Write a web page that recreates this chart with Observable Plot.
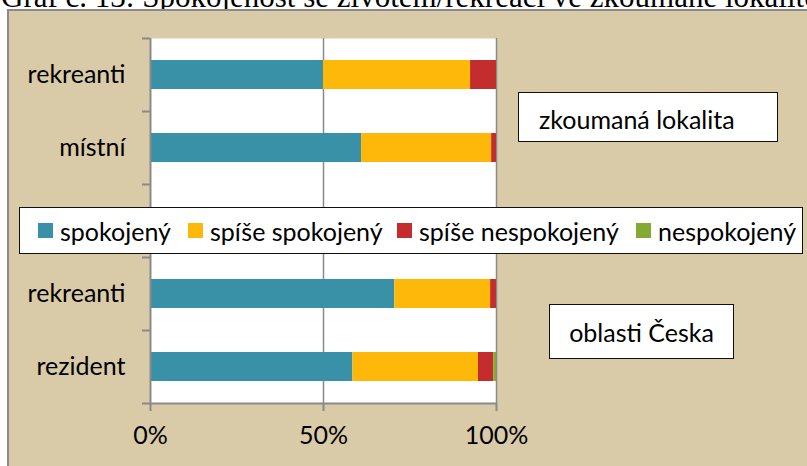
<!DOCTYPE html>
<html><head><meta charset="utf-8">
<script src="https://cdn.jsdelivr.net/npm/d3@7"></script>
<script src="https://cdn.jsdelivr.net/npm/@observablehq/plot@0.6"></script>
<style>
html,body{margin:0;padding:0;background:#fff;}
#wrap{position:relative;width:807px;height:466px;overflow:hidden;font-family:Lato,"Open Sans",sans-serif;color:#000;}
#title{position:absolute;left:1px;top:-21px;font-family:"Liberation Serif","Times New Roman",serif;font-size:31px;white-space:nowrap;color:#000;}
#frame{position:absolute;left:7px;top:9px;width:830px;height:490px;background:#d9caa8;border-left:2px solid #8a8a8a;border-top:2px solid #8a8a8a;}
#chart{position:absolute;left:0;top:0;}
.box{position:absolute;background:#fff;border:1.6px solid #111;box-sizing:border-box;font-size:25px;display:flex;align-items:center;white-space:nowrap;}
#legend{left:19px;top:207px;width:784px;height:47px;}
.item{position:absolute;top:0;height:100%;display:flex;align-items:center;}
.sw{width:15px;height:15px;margin-right:7px;}
</style>
</head><body>
<div id="wrap">
  <div id="title">Graf č. 13: Spokojenost se životem/rekreací ve zkoumané lokalitě</div>
  <div id="frame"></div>
  <div id="chart"></div>
  <div class="box" id="note1" style="left:518px;top:92px;width:260px;height:50px;padding-left:20px;padding-top:4px;">zkoumaná lokalita</div>
  <div class="box" id="note2" style="left:549px;top:304px;width:185px;height:55px;justify-content:center;">oblasti Česka</div>
  <div class="box" id="legend"></div>
</div>
<script>
// categories (top to bottom); the empty slot is the gap hidden behind the legend
const categories = ["rekreanti", "místní", "", "rekreanti", "rezident"];
const series = ["spokojený", "spíše spokojený", "spíše nespokojený", "nespokojený"];
const spokojeny        = [50.0, 61.0, null, 70.6, 58.5];
const spiseSpokojeny   = [42.5, 37.6, null, 27.7, 36.3];
const spiseNespokojeny = [7.5, 1.4, null, 1.7, 4.4];
const nespokojeny      = [0.0, 0.0, null, 0.0, 0.8];
const xTicks = [0, 50, 100];
const colors = ["#3891a7", "#feb80a", "#c32d2e", "#84aa33"];

const seriesValues = [spokojeny, spiseSpokojeny, spiseNespokojeny, nespokojeny];
const data = [];
series.forEach((s, si) => {
  categories.forEach((c, ci) => {
    const v = seriesValues[si][ci];
    if (v != null) data.push({series: s, pos: ci, label: c, value: v});
  });
});
const labelTicks = categories.map((c, i) => c ? i + 0.5 : null).filter(d => d != null);

const chart = Plot.plot({
  width: 807, height: 466,
  marginLeft: 150, marginRight: 311, marginTop: 38, marginBottom: 63,
  style: {background: "transparent", fontFamily: "Lato, 'Open Sans', sans-serif", fontSize: "25px", color: "#000", overflow: "visible"},
  x: {domain: [0, 100], label: null},
  y: {domain: [0, categories.length], reverse: true, label: null},
  color: {domain: series, range: colors},
  marks: [
    Plot.frame({fill: "white", stroke: null}),
    Plot.ruleX(xTicks.filter(d => d > 0), {stroke: "#8a8a8a", strokeWidth: 1.5}),
    Plot.rectX(data, Plot.stackX({x: "value", y: "pos", interval: 1, fill: "series", insetTop: 22, insetBottom: 22})),
    Plot.ruleX([0], {stroke: "#8a8a8a", strokeWidth: 2}),
    Plot.ruleY([categories.length], {stroke: "#8a8a8a", strokeWidth: 2}),
    Plot.axisY({ticks: d3.range(categories.length + 1), tickSize: 8, tickFormat: () => "", stroke: "#8a8a8a", strokeWidth: 2, label: null}),
    Plot.axisY({ticks: labelTicks, tickSize: 0, tickPadding: 25, tickFormat: d => categories[Math.floor(d)], fill: "#000", fontSize: 25, label: null}),
    Plot.axisX({ticks: xTicks, tickSize: 8, tickPadding: 15, tickFormat: d => d + "%", stroke: "#8a8a8a", strokeWidth: 2, fill: "#000", fontSize: 25, label: null})
  ]
});
document.getElementById("chart").appendChild(chart);

// legend built from the same color scale
const legendX = [18, 168, 377, 616];
const legend = document.getElementById("legend");
const scale = chart.scale("color");
series.forEach((s, i) => {
  const item = document.createElement("div");
  item.className = "item";
  item.style.left = legendX[i] + "px";
  const sw = document.createElement("div");
  sw.className = "sw";
  sw.style.background = scale.range[scale.domain.indexOf(s)];
  const t = document.createElement("span");
  t.textContent = s;
  item.appendChild(sw); item.appendChild(t);
  legend.appendChild(item);
});
</script>
</body></html>
